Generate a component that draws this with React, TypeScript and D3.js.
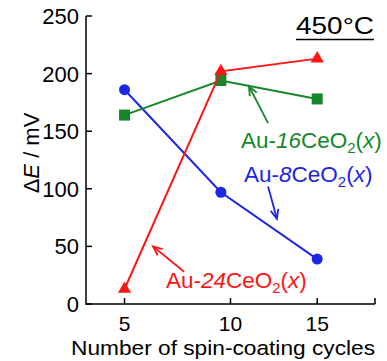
import React from "react";
import * as d3 from "d3";

// spin-coating cycles and ΔE (mV) for each electrode
const cycles = [5, 10, 15];
const au8 = [186, 97, 39];
const au16 = [164, 194, 178];
const au24 = [13, 202, 213];

const yTicks = [0, 50, 100, 150, 200, 250];
// the "10" tick of the original sits a bit right of the middle points
const xTickPos = [5, 10.5, 15, 18];
const xTickLabels = ["5", "10", "15", ""];

const FONT = "'Liberation Sans', Arial, sans-serif";
const RED = "#ff1414";
const GREEN = "#16862b";
const BLUE = "#1c26e6";

function Arrow(props) {
  const { x1, y1, x2, y2, color } = props;
  const a = Math.atan2(y2 - y1, x2 - x1);
  const len = 10, spread = 0.4;
  const h1 = [x2 - len * Math.cos(a - spread), y2 - len * Math.sin(a - spread)];
  const h2 = [x2 - len * Math.cos(a + spread), y2 - len * Math.sin(a + spread)];
  return (
    <g stroke={color} strokeWidth={1.8} fill="none">
      <path d={`M${x1},${y1}L${x2},${y2}`} />
      <path d={`M${h1[0]},${h1[1]}L${x2},${y2}L${h2[0]},${h2[1]}`} />
    </g>
  );
}

function Label(props) {
  const { x, y, color, num } = props;
  return (
    <text x={x} y={y} fill={color} fontSize={22.5} fontFamily={FONT}>
      Au-<tspan fontStyle="italic">{num}</tspan>CeO
      <tspan fontSize={15} dy={5}>2</tspan>
      <tspan dy={-5}>(</tspan>
      <tspan fontStyle="italic">x</tspan>)
    </text>
  );
}

export default function App() {
  const width = 387, height = 361;
  const x = d3.scaleLinear().domain([3, 18]).range([86, 375]);
  const y = d3.scaleLinear().domain([0, 250]).range([304, 16]);

  const line = d3.line<number>().x((d, i) => x(cycles[i])).y(d => y(d));
  const tri = d3.symbol(d3.symbolTriangle, 75)();

  const series = [
    { vals: au8, color: BLUE, shape: "circle" },
    { vals: au16, color: GREEN, shape: "square" },
    { vals: au24, color: RED, shape: "triangle" },
  ];

  return (
    <svg width={width} height={height} style={{ position: "absolute", left: 0, top: 0 }}
      fontFamily={FONT}>
      <rect width={width} height={height} fill="white" />

      {/* axes */}
      <g stroke="black" strokeWidth={1.5} fill="none">
        <path d={`M${x(3)},${y(250)}V${y(0)}H${x(18)}`} />
        {yTicks.map(t => <path key={t} d={`M${x(3)},${y(t)}h6`} />)}
        {xTickPos.map(t => <path key={t} d={`M${x(t)},${y(0)}v-6`} />)}
      </g>
      {yTicks.map(t => (
        <text key={t} x={79} y={y(t)} dy="0.36em" textAnchor="end" fontSize={22}>{t}</text>
      ))}
      {xTickPos.map((t, i) => (
        <text key={t} x={x(t)} y={331} textAnchor="middle" fontSize={21}>{xTickLabels[i]}</text>
      ))}
      <text x={71} y={355} fontSize={20.5} textLength={304} lengthAdjust="spacingAndGlyphs">
        Number of spin-coating cycles
      </text>
      <text transform="translate(39,153) rotate(-90)" textAnchor="middle" fontSize={22}>
        Δ<tspan fontStyle="italic">E</tspan> / mV
      </text>

      {/* series */}
      {series.map((s, k) => (
        <g key={k}>
          <path d={line(s.vals)} stroke={s.color} strokeWidth={2} fill="none" />
          {s.vals.map((v, i) => {
            const cx = x(cycles[i]), cy = y(v);
            if (s.shape === "circle") return <circle key={i} cx={cx} cy={cy} r={5.5} fill={s.color} />;
            if (s.shape === "square") return <rect key={i} x={cx - 5.5} y={cy - 5.5} width={11} height={11} fill={s.color} />;
            return <path key={i} d={tri} transform={`translate(${cx},${cy})`} fill={s.color} />;
          })}
        </g>
      ))}

      {/* annotations */}
      <Arrow x1={x(12.45)} y1={y(157)} x2={x(11.46)} y2={y(189)} color={GREEN} />
      <Arrow x1={x(12.45)} y1={y(102)} x2={x(12.91)} y2={y(74)} color={BLUE} />
      <Arrow x1={x(8.09)} y1={y(28)} x2={x(6.48)} y2={y(50)} color={RED} />
      <Label x={x(11.04)} y={y(135.4)} color={GREEN} num="16" />
      <Label x={x(11.2)} y={y(105.9)} color={BLUE} num="8" />
      <Label x={x(7.15)} y={y(13.9)} color={RED} num="24" />

      <text x={296} y={34} fontSize={24.5} textLength={78} lengthAdjust="spacingAndGlyphs">450°C</text>
      <path d="M296,39.5H374" stroke="black" strokeWidth={1.3} />
    </svg>
  );
}
